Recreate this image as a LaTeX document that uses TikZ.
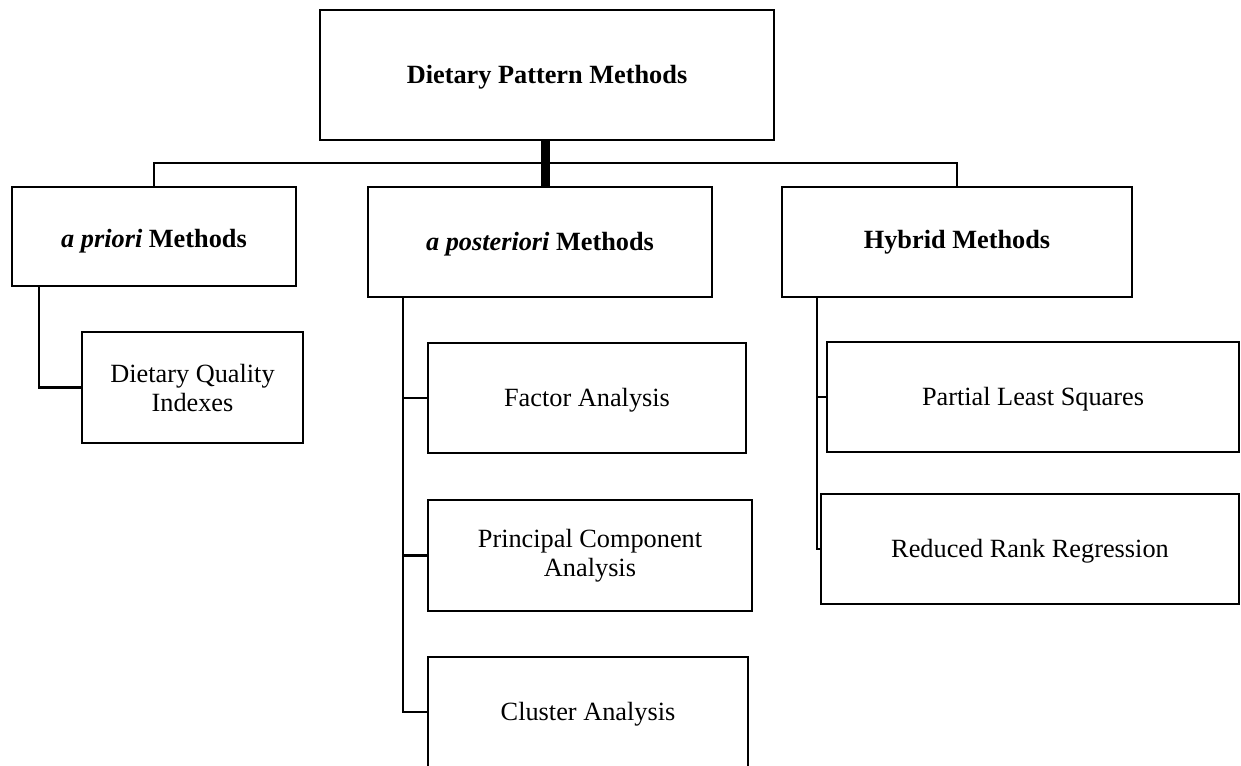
\documentclass[tikz,border=0pt]{standalone}
\usepackage{fontspec}
\setmainfont{Liberation Serif}
\newcommand{\lowerby}[2]{\raisebox{-#1}[\height][\depth]{#2}}
\begin{document}
\begin{tikzpicture}[x=1pt,y=-1pt,
  every node/.style={inner sep=0pt,outer sep=0pt,font=\fontsize{26.3}{29}\selectfont,align=center},
  box/.style={draw,line width=2.8pt,rectangle},
  conn/.style={line width=2.8pt,line join=miter},
  thickconn/.style={line width=9pt}]
\useasboundingbox (0,0) rectangle (1241,765);
\node[box,minimum width=454pt,minimum height=130pt] (top) at (547,75) {\lowerby{2pt}{\textbf{Dietary Pattern Methods}}};
\node[box,minimum width=284pt,minimum height=99pt] (apriori) at (154,236.5) {\lowerby{5pt}{\textbf{\textit{a priori} Methods}}};
\node[box,minimum width=344pt,minimum height=110pt] (apost) at (540,242) {\lowerby{2pt}{\textbf{\textit{a posteriori} Methods}}};
\node[box,minimum width=350pt,minimum height=110pt] (hybrid) at (957,242) {\textbf{Hybrid Methods}};
\node[box,minimum width=221pt,minimum height=111pt] (dqi) at (192.5,387.5) {Dietary Quality\\Indexes};
\node[box,minimum width=318pt,minimum height=110pt] (fa) at (587,398) {\lowerby{2pt}{Factor Analysis}};
\node[box,minimum width=324pt,minimum height=111pt] (pca) at (590,555.5) {Principal Component\\Analysis};
\node[box,minimum width=320pt,minimum height=110pt] (ca) at (588,712) {\lowerby{2pt}{Cluster Analysis}};
\node[box,minimum width=412pt,minimum height=110pt] (pls) at (1033,397) {\lowerby{2pt}{Partial Least Squares}};
\node[box,minimum width=418pt,minimum height=110pt] (rrr) at (1030,549) {\lowerby{2pt}{Reduced Rank Regression}};
\coordinate (bar) at (0,163);
\coordinate (lp) at (39,0);
\coordinate (mp) at (403,0);
\coordinate (hp) at (817,0);
\draw[conn] (apriori.north) -- (apriori.north |- bar) -- (hybrid.north |- bar) -- (hybrid.north);
\draw[thickconn] ([xshift=-2pt]top.south) -- ([xshift=-2pt]top.south |- apost.north);
\draw[conn] (lp |- apriori.south) -- (lp |- dqi.west) -- (dqi.west);
\draw[conn] (mp |- apost.south) -- (mp |- ca.west) -- (ca.west);
\draw[conn] (mp |- fa.west) -- (fa.west);
\draw[conn] (mp |- pca.west) -- (pca.west);
\draw[conn] (hp |- hybrid.south) -- (hp |- rrr.west) -- (rrr.west);
\draw[conn] (hp |- pls.west) -- (pls.west);
\end{tikzpicture}
\end{document}
